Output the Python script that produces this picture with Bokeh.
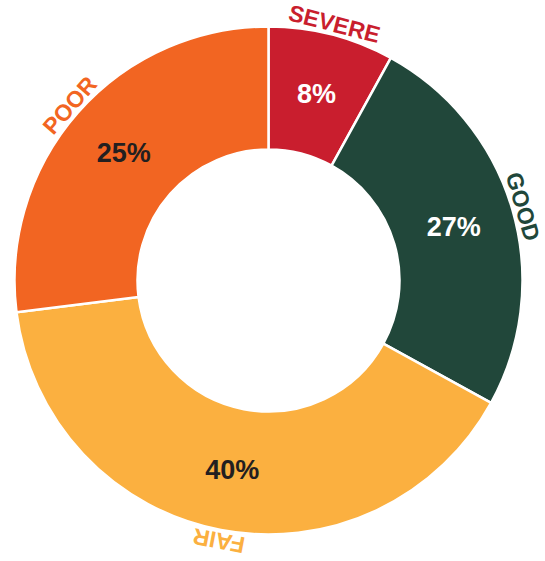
import math
from bokeh.plotting import figure
from bokeh.models import Range1d, ColumnDataSource
from bokeh.core.properties import value
from bokeh.embed import file_html
from bokeh.resources import INLINE

# ---- data ----
categories = ["SEVERE", "GOOD", "FAIR", "POOR"]
slice_values = [8, 25, 40, 27]          # slice sizes as drawn (percent)
pct_labels = ["8%", "27%", "40%", "25%"]  # texts printed on the slices
colors = ["#C91E2E", "#21473A", "#FBB040", "#F26522"]
pct_text_colors = ["#FFFFFF", "#FFFFFF", "#231F20", "#231F20"]

# ---- geometry ----
R_OUT = 254
R_IN = 131
R_PCT = 193
R_LAB = 265

total = float(sum(slice_values))
starts, ends, mids = [], [], []
acc = 0.0
for v in slice_values:
    a0 = acc / total * 2 * math.pi        # clockwise from 12 o'clock
    acc += v
    a1 = acc / total * 2 * math.pi
    starts.append(a0)
    ends.append(a1)
    mids.append((a0 + a1) / 2)

# bokeh angles: anticlockwise from +x axis
wedge_src = ColumnDataSource(dict(
    start=[math.pi / 2 - e for e in ends],
    end=[math.pi / 2 - s for s in starts],
    color=colors,
))

pct_src = ColumnDataSource(dict(
    x=[R_PCT * math.sin(m) for m in mids],
    y=[R_PCT * math.cos(m) for m in mids],
    text=pct_labels,
    color=pct_text_colors,
))

lab_src = ColumnDataSource(dict(
    x=[R_LAB * math.sin(m) for m in mids],
    y=[R_LAB * math.cos(m) for m in mids],
    text=categories,
    color=colors,
    angle=[-m for m in mids],
))

p = figure(width=545, height=561, output_backend="svg", toolbar_location=None,
           x_range=Range1d(-268, 277), y_range=Range1d(-281, 280),
           min_border=0, outline_line_color=None, background_fill_color="white",
           border_fill_color="white")
p.axis.visible = False
p.grid.visible = False

p.annular_wedge(x=0, y=0, inner_radius=R_IN, outer_radius=R_OUT,
                start_angle="start", end_angle="end",
                fill_color="color", line_color="white", line_width=2.5,
                source=wedge_src)

p.text(x="x", y="y", text="text", text_color="color",
       text_font=value("Liberation Sans"), text_font_style="bold",
       text_font_size="27px", text_align="center", text_baseline="middle",
       source=pct_src)

p.text(x="x", y="y", text="text", text_color="color", angle="angle",
       text_font=value("Liberation Sans"), text_font_style="bold",
       text_font_size="23px", text_align="center", text_baseline="middle",
       source=lab_src)

open("out.html", "w").write(file_html(p, INLINE))
